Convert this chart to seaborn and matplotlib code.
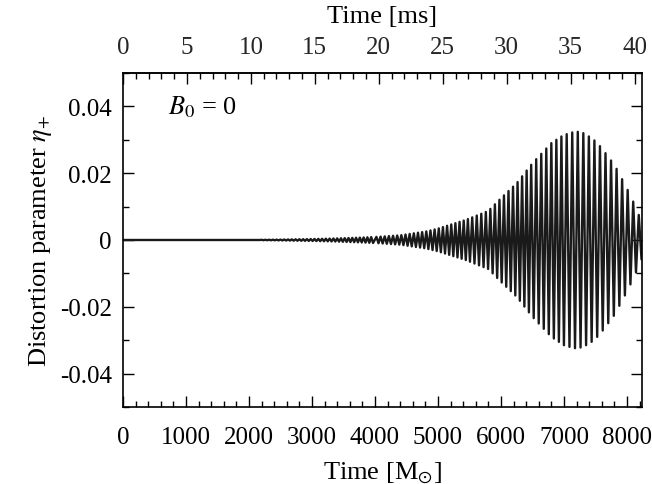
import numpy as np
import pandas as pd
import matplotlib
matplotlib.use('Agg')
import matplotlib.pyplot as plt
from matplotlib.ticker import MultipleLocator
import seaborn as sns

# Extrema of the oscillation (time in M_sun, eta_+ in units of 1e-3)
flat_t = [0, 2170]
flat_v = [0.0, 0.0]

seg_a_t = [2200, 2230, 2260, 2290, 2320, 2350, 2380, 2410, 2440, 2470,
           2500, 2530, 2560, 2590, 2620, 2650, 2680, 2710, 2740, 2770,
           2800, 2830, 2860, 2890, 2920, 2950, 2980, 3010, 3040, 3070,
           3100, 3130, 3160, 3190, 3220, 3250, 3280, 3310, 3340, 3370,
           3400, 3430, 3460, 3490, 3520, 3550, 3580, 3610, 3640, 3670,
           3700, 3730, 3760, 3790, 3820, 3850, 3880, 3910, 3940, 3970]
seg_a_v = [0.05, -0.06, 0.07, -0.07, 0.08, -0.09, 0.10, -0.10, 0.11, -0.12,
           0.13, -0.14, 0.15, -0.16, 0.17, -0.18, 0.19, -0.20, 0.21, -0.22,
           0.23, -0.24, 0.25, -0.26, 0.27, -0.28, 0.29, -0.30, 0.31, -0.32,
           0.34, -0.35, 0.36, -0.37, 0.39, -0.40, 0.42, -0.43, 0.45, -0.46,
           0.48, -0.50, 0.52, -0.54, 0.56, -0.58, 0.60, -0.62, 0.64, -0.66,
           0.68, -0.70, 0.72, -0.74, 0.76, -0.78, 0.81, -0.84, 0.87, -0.90]

seg_b_t = [4023, 4056, 4089, 4122, 4155, 4188, 4221, 4254, 4287, 4320,
           4353, 4386, 4419, 4452, 4485, 4518, 4551, 4584, 4617, 4650,
           4683, 4716, 4749, 4782, 4815, 4848, 4881, 4914, 4947, 4980,
           5013, 5046, 5079, 5112, 5145, 5178, 5211, 5244, 5277, 5310,
           5343, 5376, 5409, 5442, 5475, 5508]
seg_b_v = [0.93, -0.97, 1.01, -1.05, 1.09, -1.14, 1.18, -1.22, 1.26, -1.30,
           1.34, -1.38, 1.45, -1.54, 1.63, -1.72, 1.81, -1.91, 2.00, -2.09,
           2.18, -2.27, 2.36, -2.45, 2.57, -2.72, 2.86, -3.01, 3.16, -3.31,
           3.48, -3.67, 3.87, -4.06, 4.26, -4.45, 4.65, -4.84, 5.04, -5.23,
           5.43, -5.62, 5.82, -6.01, 6.26, -6.51]

seg_c_t = [5544, 5580, 5616, 5652, 5688, 5724, 5760, 5796, 5832, 5868,
           5904, 5940, 5976, 6012, 6048, 6084, 6120, 6156, 6192, 6228,
           6264, 6300, 6336, 6372, 6408, 6444, 6480]
seg_c_v = [6.78, -7.05, 7.32, -7.59, 7.86, -8.13, 8.40, -8.67, 9.31, -9.99,
           10.68, -11.36, 12.04, -12.72, 13.36, -14.01, 14.66, -15.31, 15.96, -16.60,
           17.34, -18.20, 19.06, -19.93, 20.79, -21.66, 22.52]

seg_d_t = [6520, 6560, 6600, 6640, 6680, 6720, 6760, 6800, 6840, 6880,
           6920, 6960, 7000]
seg_d_v = [-23.4, 24.2, -25.0, 25.8, -26.6, 27.4, -28.2, 29.0, -29.5, 30.0,
           -30.5, 31.0, -31.5]

seg_e_t = [7044, 7088, 7132, 7176, 7220, 7264, 7308, 7352, 7396, 7440,
           7484, 7528, 7572, 7616, 7660, 7704, 7748, 7792, 7836, 7880,
           7924, 7968, 8012, 8056, 8100, 8144, 8188, 8232, 8276]
seg_e_v = [31.7, -32.0, 32.2, -32.4, 32.4, -32.2, 32.0, -31.5, 31.0, -30.5,
           29.8, -29.0, 28.1, -27.1, 26.0, -24.9, 23.8, -22.7, 21.3, -19.7,
           18.2, -16.6, 15.0, -13.3, 11.5, -9.7, 7.5, -5.8, 4.5]

ytick_vals = [-0.04, -0.02, 0.0, 0.02, 0.04]
ytick_labels = ['-0.04', '-0.02', '0', '0.02', '0.04']
xtick_vals = [0, 1000, 2000, 3000, 4000, 5000, 6000, 7000, 8000]
ms_tick_vals = [0, 5, 10, 15, 20, 25, 30, 35, 40]
MSUN_MS = 4.9255e-3  # 1 M_sun in ms

time_m = flat_t + seg_a_t + seg_b_t + seg_c_t + seg_d_t + seg_e_t
eta = flat_v + seg_a_v + seg_b_v + seg_c_v + seg_d_v + seg_e_v
df = pd.DataFrame({'t': time_m, 'eta': np.array(eta) * 1e-3})

sns.set_theme(style='ticks')
plt.rcParams['font.family'] = ['Liberation Serif', 'DejaVu Serif']
plt.rcParams['mathtext.fontset'] = 'stix'
plt.rcParams['axes.unicode_minus'] = False

TICK_FS = 18
LABEL_FS = 19

fig = plt.figure(figsize=(6.52, 4.85), dpi=100)
ax = fig.add_axes([0.1887, 0.1588, 0.7960, 0.6886])

sns.lineplot(data=df, x='t', y='eta', color='#1a1a1a', linewidth=1.7, sort=False,
             estimator=None, ax=ax)

ax.set_xlim(0, 8240)
ax.set_ylim(-0.05, 0.05)
ax.set_xticks(xtick_vals)
ax.set_xticklabels([str(v) for v in xtick_vals])
ax.xaxis.set_minor_locator(MultipleLocator(200))
ax.set_yticks(ytick_vals)
ax.set_yticklabels(ytick_labels)
ax.yaxis.set_minor_locator(MultipleLocator(0.01))

ax.tick_params(which='both', direction='in', top=False, right=True,
               labelsize=TICK_FS, width=1.0, color='black', labelcolor='black')
ax.tick_params(which='major', length=8)
ax.tick_params(which='minor', length=4)
ax.tick_params(axis='x', which='major', pad=14)
ax.tick_params(axis='y', which='major', pad=8)
for s in ax.spines.values():
    s.set_linewidth(1.2)
    s.set_color('black')

ax.set_xlabel('Time [M$_{\\odot}$]', fontsize=LABEL_FS, labelpad=8, color='black')
ax.set_ylabel('Distortion parameter $\\eta_{+}$', fontsize=LABEL_FS, labelpad=4, color='black')

top = ax.secondary_xaxis('top', functions=(lambda m: m * MSUN_MS, lambda ms: ms / MSUN_MS))
top.set_xticks(ms_tick_vals)
top.set_xticklabels([str(v) for v in ms_tick_vals])
top.xaxis.set_minor_locator(MultipleLocator(1))
top.tick_params(which='both', direction='in', labelsize=TICK_FS, width=1.0, color='black')
top.tick_params(which='major', length=8, pad=11)
top.tick_params(which='minor', length=4)
top.set_xlabel('Time [ms]', fontsize=LABEL_FS, labelpad=10, color='black')

ax.text(720, 0.04, '$B_0$ = 0', fontsize=LABEL_FS, va='center', ha='left', color='black')

fig.savefig('out.png', dpi=100)
